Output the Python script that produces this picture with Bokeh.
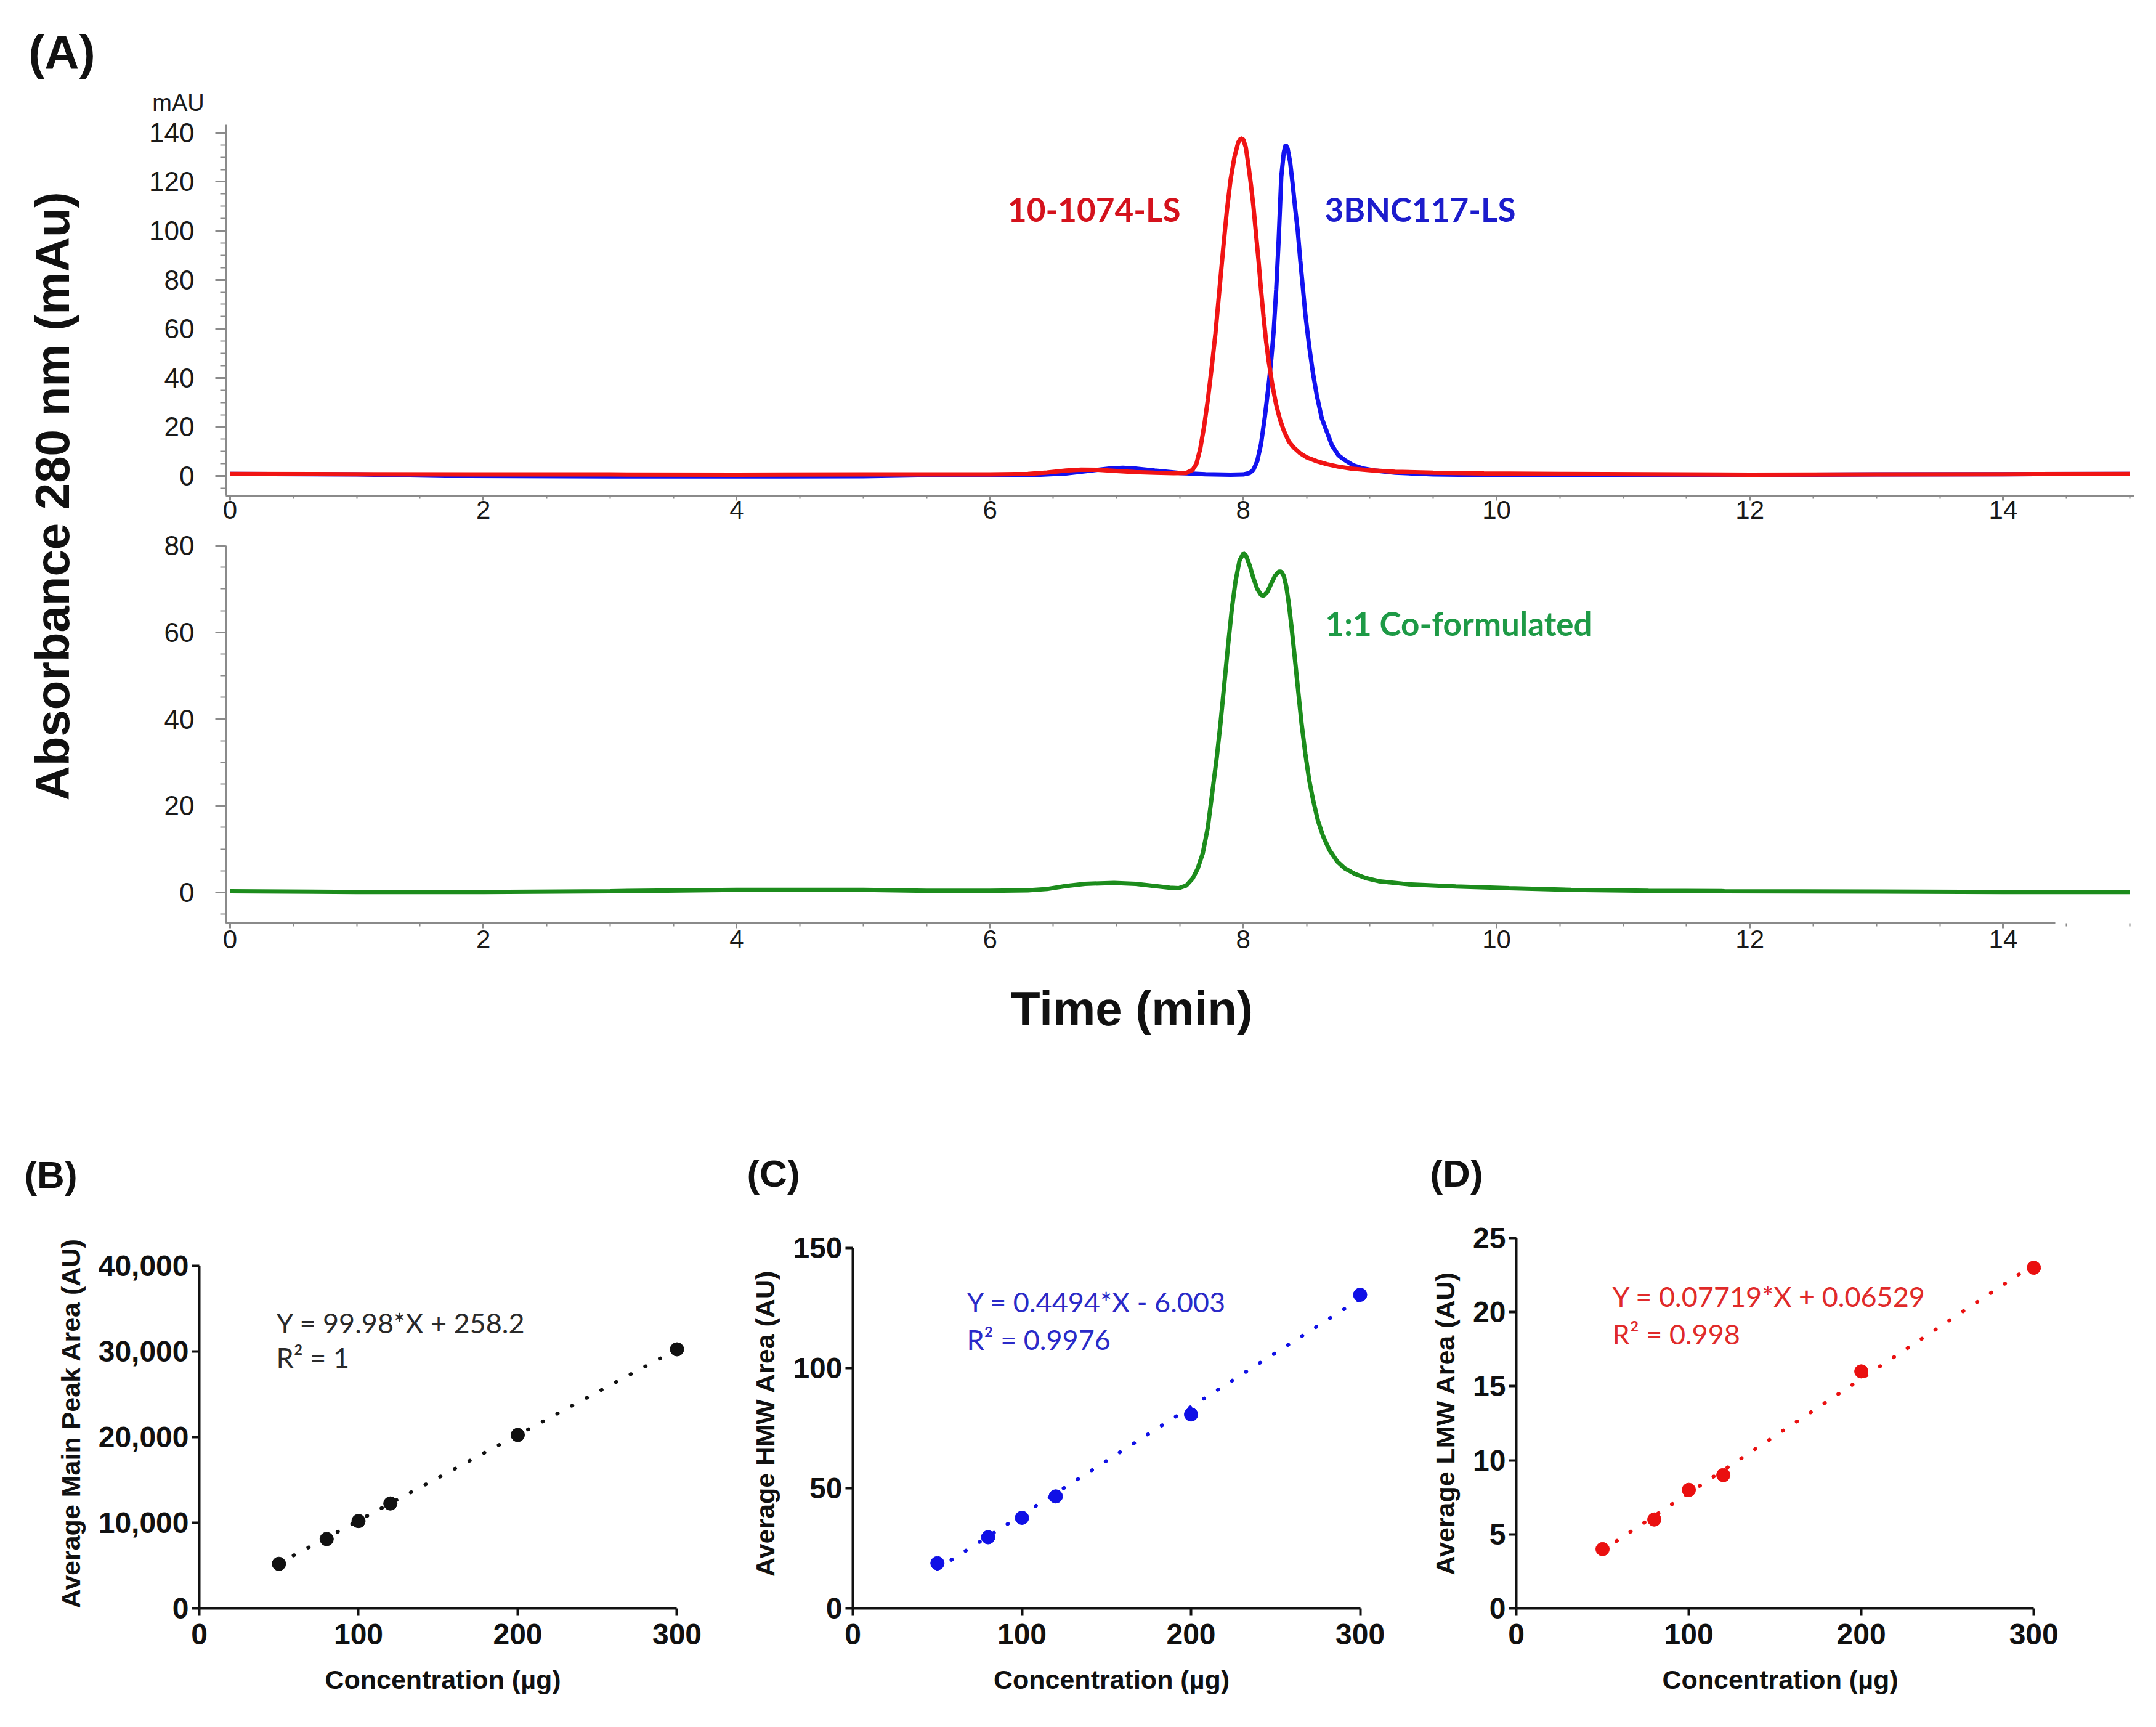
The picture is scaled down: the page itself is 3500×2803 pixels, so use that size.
import math
from bokeh.plotting import figure
from bokeh.models import Range1d, Label, FixedTicker, NumeralTickFormatter
from bokeh.layouts import row, column
from bokeh.embed import file_html
from bokeh.resources import INLINE

# ---------------- data ----------------
red_t = [0.0, 1.0, 2.0, 3.0, 4.0, 5.0, 5.5, 6.0, 6.3, 6.45, 6.6, 6.72, 6.85, 7.0, 7.15, 7.3,
         7.45, 7.55, 7.60, 7.63, 7.66, 7.69, 7.72, 7.75, 7.78, 7.81, 7.84, 7.87, 7.90, 7.93,
         7.96, 7.98, 8.00, 8.02, 8.04, 8.06, 8.08, 8.10, 8.12, 8.14, 8.16, 8.18, 8.20, 8.23,
         8.26, 8.29, 8.32, 8.36, 8.40, 8.45, 8.50, 8.58, 8.66, 8.75, 8.85, 9.0, 9.2, 9.5,
         9.9, 10.5, 12.0, 13.0, 14.0, 15.0]
red_v = [0.8, 0.7, 0.6, 0.6, 0.5, 0.6, 0.6, 0.6, 0.8, 1.4, 2.2, 2.6, 2.5, 2.0, 1.6, 1.3,
         1.1, 1.2, 2.5, 5, 11, 20, 31, 44, 58, 75, 92, 108, 121, 130,
         136, 137.7, 137.2, 134, 127, 119, 110, 99, 88, 76, 65, 55, 47, 37,
         29, 23, 18.5, 14, 11.5, 9.2, 7.6, 6.0, 4.8, 3.8, 3.0, 2.3, 1.7, 1.3,
         1.0, 0.8, 0.5, 0.6, 0.7, 0.8]

blue_t = [0.0, 1.0, 1.7, 3.0, 4.0, 5.0, 5.5, 6.0, 6.4, 6.6, 6.8, 6.95, 7.05, 7.15, 7.3, 7.5,
          7.7, 7.9, 8.0, 8.05, 8.08, 8.11, 8.14, 8.17, 8.20, 8.22, 8.24, 8.26, 8.28, 8.30,
          8.32, 8.335, 8.35, 8.37, 8.39, 8.41, 8.43, 8.45, 8.47, 8.49, 8.52, 8.55, 8.58,
          8.62, 8.66, 8.70, 8.75, 8.80, 8.87, 8.95, 9.04, 9.2, 9.5, 10.0, 11.0, 12.0, 13.0,
          14.0, 15.0]
blue_v = [0.8, 0.6, 0.0, -0.2, -0.2, -0.1, 0.3, 0.4, 0.5, 1.0, 2.2, 3.1, 3.3, 3.0, 2.2, 1.2,
          0.7, 0.5, 0.6, 1.2, 2.5, 6, 13, 24, 37, 47, 59, 76, 97, 122,
          132, 135, 133.5, 128, 119, 109, 100, 88, 77, 66, 53, 42, 33,
          23.5, 18, 12.5, 8.5, 6.5, 4.3, 3.0, 2.2, 1.3, 0.6, 0.3, 0.3, 0.4, 0.6,
          0.7, 0.8]

green_t = [0.0, 1.0, 2.0, 3.0, 4.0, 5.0, 5.5, 6.0, 6.3, 6.45, 6.6, 6.75, 6.98, 7.15, 7.3,
           7.42, 7.49, 7.55, 7.60, 7.64, 7.68, 7.72, 7.755, 7.79, 7.82, 7.85, 7.88, 7.91,
           7.94, 7.97, 8.00, 8.02, 8.05, 8.08, 8.11, 8.14, 8.16, 8.19, 8.22, 8.25, 8.28,
           8.30, 8.32, 8.34, 8.36, 8.38, 8.40, 8.43, 8.46, 8.49, 8.52, 8.55, 8.59, 8.63,
           8.68, 8.74, 8.80, 8.88, 8.97, 9.07, 9.3, 9.68, 10.1, 10.59, 11.2, 11.8, 13.0,
           14.0, 15.0]
green_v = [0.3, 0.1, 0.1, 0.3, 0.6, 0.6, 0.4, 0.4, 0.5, 0.8, 1.5, 2.0, 2.2, 2.0, 1.5,
           1.1, 1.0, 1.6, 3.2, 5.5, 9, 15, 23, 31, 39, 48, 57, 65.5,
           72, 76.5, 78.2, 77.8, 75.5, 72.5, 70, 68.6, 68.4, 69.3, 71.2, 73, 74,
           74, 73, 70.5, 66.5, 61.5, 56, 47.5, 39, 32, 26, 21.5, 16.5, 13,
           9.8, 7.2, 5.6, 4.3, 3.3, 2.6, 1.9, 1.4, 1.0, 0.6, 0.4, 0.3, 0.2,
           0.1, 0.1]

top_yticks = [0, 20, 40, 60, 80, 100, 120, 140]
bot_yticks = [0, 20, 40, 60, 80]
time_ticks = [0, 2, 4, 6, 8, 10, 12, 14]

conc = [50, 80, 100, 120, 200, 300]
main_peak = [5200, 8100, 10200, 12250, 20250, 30250]
hmw_area = [18.8, 29.6, 37.7, 46.6, 80.7, 130.5]
lmw_area = [4.0, 6.0, 8.0, 9.0, 16.0, 23.0]

fit_slope = [99.98, 0.4494, 0.07719]
fit_icpt = [258.2, -6.003, 0.06529]
fit_range = [50, 300]

conc_ticks = [0, 100, 200, 300]
b_ticks = [0, 10000, 20000, 30000, 40000]
c_ticks = [0, 50, 100, 150]
d_ticks = [0, 5, 10, 15, 20, 25]

eq_b = ["Y = 99.98*X + 258.2", "R\u00b2 = 1"]
eq_c = ["Y = 0.4494*X - 6.003", "R\u00b2 = 0.9976"]
eq_d = ["Y =  0.07719*X + 0.06529", "R\u00b2 = 0.998"]

PAGE_W = 3484


# ---------------- helpers ----------------
def mapper(fl, fr, ft, fb, x0, x1, y0, y1):
    def f(px, py):
        return (x0 + (px - fl) / (fr - fl) * (x1 - x0),
                y1 - (py - ft) / (fb - ft) * (y1 - y0))
    return f


def add_label(p, m, px, py, text, size, color="#111111", bold=False, font="Liberation Sans",
              align="center", angle=0.0):
    x, y = m(px, py)
    p.add_layout(Label(x=x, y=y, text=text, text_font=font, text_font_size=f"{size}px",
                       text_font_style="bold" if bold else "normal", text_color=color,
                       text_align=align, text_baseline="middle", angle=angle))


def blank_fig(x0, y0, w, h):
    """A figure whose frame is the whole canvas; data units = page pixels."""
    p = figure(width=w, height=h, x_range=Range1d(0, w), y_range=Range1d(0, h),
               x_axis_location=None, y_axis_location=None, toolbar_location=None,
               output_backend="svg", min_border=0)
    p.xgrid.grid_line_color = None
    p.ygrid.grid_line_color = None
    p.outline_line_color = None
    m = lambda px, py: (px - x0, h - (py - y0))
    return p, m


def style_chrom(p, yt, x_standoff):
    for ax in (p.xaxis[0], p.yaxis[0]):
        ax.axis_line_color = "#8a8a8a"
        ax.axis_line_width = 3
        ax.major_tick_line_color = "#8a8a8a"
        ax.major_tick_line_width = 3
        ax.minor_tick_line_color = "#8a8a8a"
        ax.minor_tick_line_width = 2
        ax.major_label_text_font = "Liberation Sans"
        ax.major_label_text_color = "#1a1a1a"
        ax.major_tick_in = 0
        ax.minor_tick_in = 0
    xa, ya = p.xaxis[0], p.yaxis[0]
    xa.major_label_text_font_size = "42px"
    xa.ticker = FixedTicker(ticks=time_ticks, minor_ticks=[i * 0.5 for i in range(0, 31)])
    xa.major_tick_out = 8
    xa.minor_tick_out = 5
    xa.major_label_standoff = x_standoff
    ya.major_label_text_font_size = "44px"
    ya.ticker = FixedTicker(ticks=yt, minor_ticks=list(range(-5, yt[-1] + 1, 5)))
    ya.major_tick_out = 17
    ya.minor_tick_out = 9
    ya.major_label_standoff = 34
    p.xgrid.grid_line_color = None
    p.ygrid.grid_line_color = None
    p.outline_line_color = None


def style_cal(p, ticks, fmt, ytitle, ybounds):
    for ax in (p.xaxis[0], p.yaxis[0]):
        ax.axis_line_color = "#111111"
        ax.axis_line_width = 4
        ax.major_tick_line_color = "#111111"
        ax.major_tick_line_width = 4
        ax.major_tick_in = 0
        ax.major_tick_out = 12
        ax.minor_tick_line_color = None
        ax.major_label_text_font = "Liberation Sans"
        ax.major_label_text_font_style = "bold"
        ax.major_label_text_font_size = "48px"
        ax.major_label_text_color = "#111111"
        ax.axis_label_text_font = "Liberation Sans"
        ax.axis_label_text_font_style = "bold"
        ax.axis_label_text_font_size = "43px"
        ax.axis_label_text_color = "#111111"
    xa, ya = p.xaxis[0], p.yaxis[0]
    xa.ticker = FixedTicker(ticks=conc_ticks)
    xa.bounds = (0, 300)
    xa.major_label_standoff = 13
    xa.axis_label = "Concentration (\u00b5g)"
    xa.axis_label_standoff = 30
    ya.ticker = FixedTicker(ticks=ticks)
    ya.bounds = ybounds
    ya.major_label_standoff = 5
    ya.axis_label = ytitle
    ya.axis_label_standoff = 18
    if fmt:
        ya.formatter = NumeralTickFormatter(format=fmt)
    p.xgrid.grid_line_color = None
    p.ygrid.grid_line_color = None
    p.outline_line_color = None


# ---------------- header strip: (A) and mAU ----------------
HDR_T, HDR_B = 8, 198
hdr, mh = blank_fig(8, HDR_T, PAGE_W, HDR_B - HDR_T)
add_label(hdr, mh, 108, 92, "(A)", 78, bold=True)
add_label(hdr, mh, 297, 174, "mAU", 38, color="#1a1a1a")

# ---------------- left title column ----------------
A_BOT = 1570
tfig, mtt = blank_fig(8, HDR_B, 200, A_BOT - HDR_B)
add_label(tfig, mtt, 92, 813, "Absorbance 280 nm (mAu)", 78, bold=True, angle=math.pi / 2)

# ---------------- chromatogram geometry (page pixels) ----------------
C_L, C_R = 374, 3472          # frame left / right
T0_PX, PX_MIN = 381, 205.6    # where t = 0 falls, pixels per minute
tx0, tx1 = (C_L - T0_PX) / PX_MIN, (C_R - T0_PX) / PX_MIN

# ---------------- top chromatogram ----------------
T_FT, T_FB, T_ZERO, T_SC = 210, 812, 780, 3.98
MID = 867
ty0, ty1 = (T_ZERO - T_FB) / T_SC, (T_ZERO - T_FT) / T_SC
top = figure(width=3284, height=MID - HDR_B, x_range=Range1d(tx0, tx1),
             y_range=Range1d(ty0, ty1), toolbar_location=None, output_backend="svg",
             min_border_left=C_L - 208, min_border_right=3492 - C_R,
             min_border_top=T_FT - HDR_B, min_border_bottom=MID - T_FB)
style_chrom(top, top_yticks, 0)
top.line(blue_t, blue_v, line_color="#1212f0", line_width=7)
top.line(red_t, red_v, line_color="#f01414", line_width=7)
mt = mapper(C_L, C_R, T_FT, T_FB, tx0, tx1, ty0, ty1)
add_label(top, mt, 1924, 347, "10-1074-LS", 53, color="#d4121c", bold=True, font="Lato", align="right")
add_label(top, mt, 2158, 347, "3BNC117-LS", 53, color="#1c1ccc", bold=True, font="Lato", align="left")

# ---------------- bottom chromatogram ----------------
B_FT, B_FB, B_ZERO, B_SC = 893, 1506, 1456, 7.0375
by0, by1 = (B_ZERO - B_FB) / B_SC, (B_ZERO - B_FT) / B_SC
bot = figure(width=3284, height=A_BOT - MID, x_range=Range1d(tx0, tx1),
             y_range=Range1d(by0, by1), toolbar_location=None, output_backend="svg",
             min_border_left=C_L - 208, min_border_right=3492 - C_R,
             min_border_top=B_FT - MID, min_border_bottom=A_BOT - B_FB)
style_chrom(bot, bot_yticks, 3)
bot.xaxis[0].bounds = (tx0, 14.41)
bot.line(green_t, green_v, line_color="#1c8c1c", line_width=7)
mb = mapper(C_L, C_R, B_FT, B_FB, tx0, tx1, by0, by1)
add_label(bot, mb, 2159, 1019, "1:1 Co-formulated", 53, color="#1e9a46", bold=True, font="Lato", align="left")

# ---------------- footer strip: Time (min), (B), (C), (D) ----------------
CAL_T = 1960
ftr, mf = blank_fig(8, A_BOT, PAGE_W, CAL_T - A_BOT)
add_label(ftr, mf, 1845, 1644, "Time (min)", 78, bold=True)
add_label(ftr, mf, 90, 1914, "(B)", 62, bold=True)
add_label(ftr, mf, 1263, 1912, "(C)", 62, bold=True)
add_label(ftr, mf, 2372, 1912, "(D)", 62, bold=True)

# ---------------- calibration panels ----------------
CAL_FT, CAL_FB = 2017, 2618   # common frame top (row-aligned) and x-axis position


def cal_panel(cx0, cx1, fl, x300, top_px, ytop, yvals, ticks, fmt, color, eqcol, k,
              ytitle, eq, eq_left, eq_y):
    xs = (x300 - fl) / 300.0
    fr = fl + 306 * xs
    ys = (CAL_FB - top_px) / ytop
    ymax = (CAL_FB - CAL_FT) / ys
    p = figure(width=cx1 - cx0, height=2795 - CAL_T, x_range=Range1d(0, 306),
               y_range=Range1d(0, ymax), toolbar_location=None, output_backend="svg",
               min_border_left=fl - cx0, min_border_right=int(round(cx1 - fr)),
               min_border_top=CAL_FT - CAL_T, min_border_bottom=2795 - CAL_FB)
    style_cal(p, ticks, fmt, ytitle, (0, ytop))
    fy = [fit_slope[k] * x + fit_icpt[k] for x in fit_range]
    p.line(fit_range, fy, line_color=color, line_width=6, line_dash="1 26", line_cap="round")
    p.scatter(conc, yvals, size=22, color=color)
    m = mapper(fl, fr, CAL_FT, CAL_FB, 0, 306, 0, ymax)
    add_label(p, m, eq_left, eq_y[0], eq[0], 45, color=eqcol, font="Lato", align="left")
    add_label(p, m, eq_left, eq_y[1], eq[1], 45, color=eqcol, font="Lato", align="left")
    return p


pB = cal_panel(8, 1160, 331, 1106, 2062, 40000, main_peak, b_ticks, "0,0", "#111111", "#2a2a2a", 0,
               "Average Main Peak Area (AU)", eq_b, 456, (2154, 2210))
pC = cal_panel(1160, 2310, 1392, 2216, 2033, 150, hmw_area, c_ticks, None, "#1010e6", "#2a2ac8", 1,
               "Average HMW Area (AU)", eq_c, 1577, (2120, 2181))
pD = cal_panel(2310, 3492, 2469, 3309, 2017, 25, lmw_area, d_ticks, None, "#ea1010", "#e02a2a", 2,
               "Average LMW Area (AU)", eq_d, 2625, (2111, 2172))

layout = column(hdr, row(tfig, column(top, bot)), ftr, row(pB, pC, pD))
open("out.html", "w").write(file_html(layout, INLINE))
